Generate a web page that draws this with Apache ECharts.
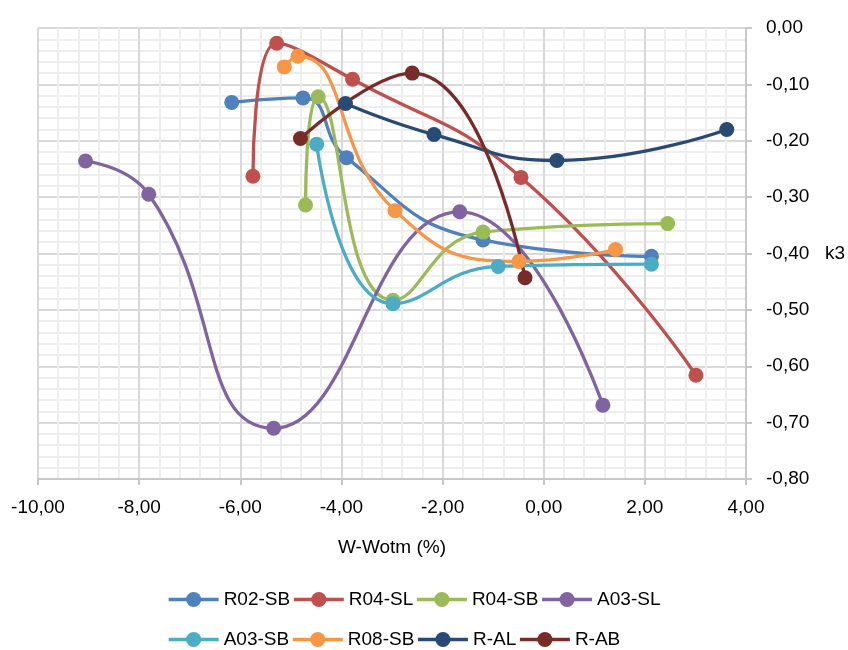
<!DOCTYPE html>
<html>
<head>
<meta charset="utf-8">
<script src="https://cdn.jsdelivr.net/npm/echarts@6/dist/echarts.min.js"></script>
<style>
  html, body { margin: 0; padding: 0; background: #fff; }
  #chart { width: 848px; height: 650px; }
</style>
</head>
<body>
<div id="chart"></div>
<script>
// ---- Data (x: w-wotm %, y: k3) ----
const seriesNames = ["R02-SB", "R04-SL", "R04-SB", "A03-SL", "A03-SB", "R08-SB", "R-AL", "R-AB"];

const R02_SB_x = [-6.17, -4.76, -3.90, -1.20, 2.13];
const R02_SB_y = [-0.132, -0.124, -0.230, -0.376, -0.405];

const R04_SL_x = [-5.75, -5.28, -3.78, -0.45, 3.01];
const R04_SL_y = [-0.263, -0.027, -0.091, -0.265, -0.616];

const R04_SB_x = [-4.71, -4.46, -2.98, -1.20, 2.45];
const R04_SB_y = [-0.314, -0.122, -0.483, -0.362, -0.347];

const A03_SL_x = [-9.06, -7.81, -5.34, -1.66, 1.17];
const A03_SL_y = [-0.236, -0.295, -0.710, -0.326, -0.669];

const A03_SB_x = [-4.49, -2.98, -0.90, 2.13];
const A03_SB_y = [-0.206, -0.489, -0.423, -0.419];

const R08_SB_x = [-5.13, -4.86, -2.94, -0.49, 1.42];
const R08_SB_y = [-0.069, -0.050, -0.324, -0.414, -0.393];

const R_AL_x = [-3.92, -2.17, 0.26, 3.62];
const R_AL_y = [-0.134, -0.189, -0.235, -0.180];

const R_AB_x = [-4.81, -2.60, -0.37];
const R_AB_y = [-0.196, -0.080, -0.443];

const xTicks = [-10, -8, -6, -4, -2, 0, 2, 4];
const yTicks = [0, -0.1, -0.2, -0.3, -0.4, -0.5, -0.6, -0.7, -0.8];

const colors = ["#4F81BD", "#C0504D", "#9BBB59", "#8064A2", "#4BACC6", "#F79646", "#2A4A76", "#772C2A"];

const allX = [R02_SB_x, R04_SL_x, R04_SB_x, A03_SL_x, A03_SB_x, R08_SB_x, R_AL_x, R_AB_x];
const allY = [R02_SB_y, R04_SL_y, R04_SB_y, A03_SL_y, A03_SB_y, R08_SB_y, R_AL_y, R_AB_y];

const fmt = v => (Math.abs(v) < 1e-9 ? 0 : v).toFixed(2).replace('.', ',');
const FONT = "Liberation Sans";

const series = seriesNames.map((name, i) => ({
  name: name,
  type: 'line',
  smooth: 0.5,
  symbol: 'circle',
  symbolSize: 15,
  showSymbol: true,
  color: colors[i],
  lineStyle: { width: 3.3, color: colors[i] },
  itemStyle: { color: colors[i] },
  emphasis: { disabled: true },
  data: allX[i].map((x, j) => [x, allY[i][j]])
}));

const legendCommon = {
  orient: 'horizontal',
  left: 162,
  itemWidth: 50,
  itemHeight: 19,
  itemGap: 2,
  lineStyle: { width: 3.3 },
  textStyle: { fontFamily: FONT, fontSize: 19, color: '#000', width: 65, overflow: 'none' },
  selectedMode: false
};

const chart = echarts.init(document.getElementById('chart'), null, { renderer: 'canvas' });
chart.setOption({
  animation: false,
  backgroundColor: '#fff',
  textStyle: { fontFamily: FONT },
  grid: { left: 38, right: 102, top: 28, bottom: 171, containLabel: false, outerBoundsMode: 'none' },
  legend: [
    Object.assign({}, legendCommon, { top: 585, data: seriesNames.slice(0, 4) }),
    Object.assign({}, legendCommon, { top: 625, data: seriesNames.slice(4, 8) })
  ],
  xAxis: {
    type: 'value',
    min: xTicks[0],
    max: xTicks[xTicks.length - 1],
    interval: 2,
    name: 'W-Wotm (%)',
    nameLocation: 'middle',
    nameGap: 59,
    nameTextStyle: { fontFamily: FONT, fontSize: 19, color: '#000' },
    axisLine: { show: true, onZero: false, lineStyle: { color: '#c8c8c8', width: 2 } },
    axisTick: { show: true, length: 6, lineStyle: { color: '#c8c8c8', width: 2 } },
    axisLabel: { formatter: fmt, fontFamily: FONT, fontSize: 19, color: '#000', margin: 19 },
    splitLine: { show: true, lineStyle: { color: '#d9d9d9', width: 2 } },
    minorTick: { show: false, splitNumber: 5 },
    minorSplitLine: { show: true, lineStyle: { color: '#eeeeee', width: 2 } }
  },
  yAxis: {
    type: 'value',
    position: 'right',
    min: yTicks[yTicks.length - 1],
    max: yTicks[0],
    interval: 0.1,
    name: 'k3',
    nameLocation: 'middle',
    nameRotate: 0,
    nameGap: 79,
    nameTextStyle: { fontFamily: FONT, fontSize: 19, color: '#000' },
    axisLine: { show: true, onZero: false, lineStyle: { color: '#c8c8c8', width: 2 } },
    axisTick: { show: true, length: 6, lineStyle: { color: '#c8c8c8', width: 2 } },
    axisLabel: { formatter: fmt, fontFamily: FONT, fontSize: 19, color: '#000', margin: 20 },
    splitLine: { show: true, lineStyle: { color: '#d9d9d9', width: 2 } },
    minorTick: { show: false, splitNumber: 5 },
    minorSplitLine: { show: true, lineStyle: { color: '#eeeeee', width: 2 } }
  },
  series: series
});
</script>
</body>
</html>
